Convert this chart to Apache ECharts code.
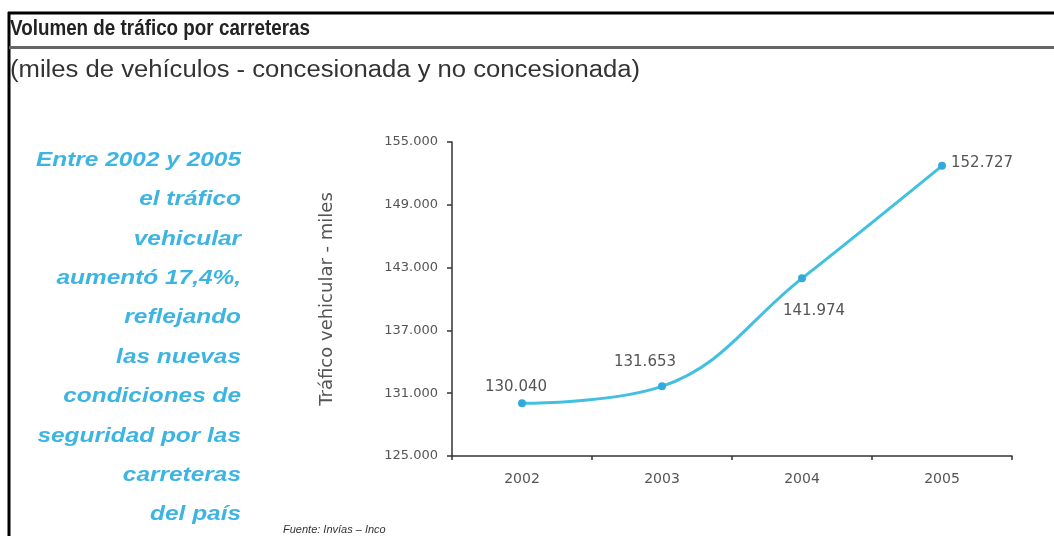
<!DOCTYPE html>
<html>
<head>
<meta charset="utf-8">
<script src="https://cdn.jsdelivr.net/npm/echarts@6/dist/echarts.min.js"></script>
<style>
html,body{margin:0;padding:0;background:#fff;}
#chart{width:1054px;height:536px;}
</style>
</head>
<body>
<div id="chart"></div>
<script>
const years = ['2002', '2003', '2004', '2005'];
const traffic = [130040, 131653, 141974, 152727];
const yTicks = [125000, 131000, 137000, 143000, 149000, 155000];
const titleText = 'Volumen de tráfico por carreteras';
const subtitleText = '(miles de vehículos - concesionada y no concesionada)';
const yAxisName = 'Tráfico vehicular - miles';
const sideNote = ['Entre 2002 y 2005', 'el tráfico', 'vehicular', 'aumentó 17,4%,', 'reflejando', 'las nuevas', 'condiciones de', 'seguridad por las', 'carreteras', 'del país'];
const sourceText = 'Fuente: Invías – Inco';

const labelPlacement = [
  {position: 'top', offset: [-6, 0]},
  {position: 'top', offset: [-17, -8]},
  {position: 'bottom', offset: [12, 16]},
  {position: 'right', offset: [0, -3]}
];

function fmt(v) {
  return String(v).replace(/\B(?=(\d{3})+(?!\d))/g, '.');
}

const ctx = document.createElement('canvas').getContext('2d');
function widthOf(text, font) { ctx.font = font; return ctx.measureText(text).width; }

const titleFont = 'bold 22px "Liberation Sans", sans-serif';
const subFont = '23px "Liberation Sans", sans-serif';
const noteFont = 'italic bold 21px "Liberation Sans", sans-serif';
const titleScale = 300 / widthOf(titleText, titleFont);
const subScale = 630 / widthOf(subtitleText, subFont);
const noteScale = 205 / widthOf(sideNote[0], noteFont);

const noteElems = sideNote.map((t, i) => ({
  type: 'text', x: 241, y: 160 + i * 39.4, originX: 0, originY: 0, scaleX: noteScale,
  style: {text: t, fill: '#3db5e3', align: 'right', verticalAlign: 'middle', font: noteFont}
}));

const chart = echarts.init(document.getElementById('chart'));
const option = {
  backgroundColor: '#fff',
  animation: false,
  grid: {left: 452, right: 42, top: 142, bottom: 80, containLabel: false},
  xAxis: {
    type: 'category',
    data: years,
    boundaryGap: true,
    axisLine: {lineStyle: {color: '#333', width: 1.5}},
    axisTick: {show: true, alignWithLabel: false, length: 4, lineStyle: {color: '#333', width: 1.5}},
    axisLabel: {color: '#555', fontFamily: 'DejaVu Sans', fontSize: 14, margin: 16}
  },
  yAxis: {
    type: 'value',
    min: 125000,
    max: 155000,
    name: yAxisName,
    nameLocation: 'middle',
    nameGap: 116,
    nameRotate: 90,
    nameTextStyle: {color: '#555', fontFamily: 'DejaVu Sans', fontSize: 18},
    axisLine: {show: true, lineStyle: {color: '#333', width: 1.5}},
    axisTick: {show: true, length: 5, customValues: yTicks, lineStyle: {color: '#333', width: 1.5}},
    axisLabel: {customValues: yTicks, formatter: fmt, color: '#555', fontFamily: 'DejaVu Sans', fontSize: 13, margin: 14},
    splitLine: {show: false}
  },
  series: [{
    type: 'line',
    data: traffic.map((v, i) => ({value: v, label: labelPlacement[i]})),
    smooth: 0.4,
    symbol: 'circle',
    symbolSize: 8,
    lineStyle: {color: '#42c0e0', width: 3},
    itemStyle: {color: '#35a9dd'},
    label: {show: true, formatter: p => fmt(p.value), color: '#555', fontFamily: 'DejaVu Sans', fontSize: 15}
  }],
  graphic: [
    {type: 'line', shape: {x1: 8, y1: 13, x2: 1054, y2: 13}, style: {stroke: '#000', lineWidth: 3}},
    {type: 'line', shape: {x1: 9, y1: 12, x2: 9, y2: 536}, style: {stroke: '#000', lineWidth: 3}},
    {type: 'line', shape: {x1: 9, y1: 47.5, x2: 1054, y2: 47.5}, style: {stroke: '#666', lineWidth: 3}},
    {type: 'text', x: 10, y: 29, originX: 0, scaleX: titleScale, style: {text: titleText, fill: '#222', verticalAlign: 'middle', font: titleFont}},
    {type: 'text', x: 10, y: 71, originX: 0, scaleX: subScale, style: {text: subtitleText, fill: '#333', verticalAlign: 'middle', font: subFont}},
    ...noteElems,
    {type: 'text', left: 283, top: 524, style: {text: sourceText, fill: '#333', font: 'italic 11px "Liberation Sans", sans-serif'}}
  ]
};
chart.setOption(option);
</script>
</body>
</html>
